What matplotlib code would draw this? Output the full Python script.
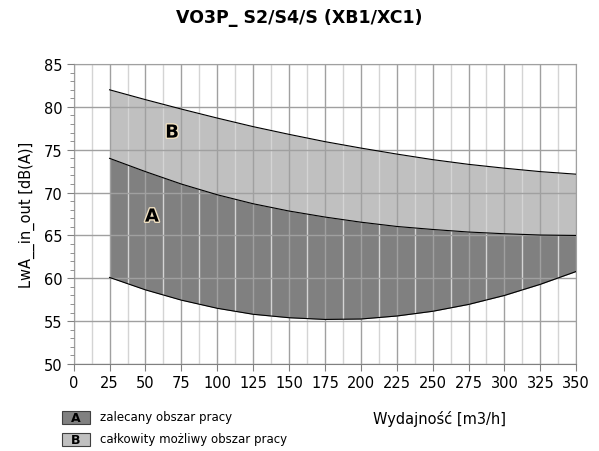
import matplotlib.pyplot as plt
import matplotlib.patheffects as pe
from matplotlib.patches import Rectangle
from matplotlib.ticker import MultipleLocator

# airflow [m3/h]
flow = [25, 50, 75, 100, 125, 150, 175, 200, 225, 250, 275, 300, 325, 350]
# upper limit of B (total possible area)
b_top = [82.0, 80.85, 79.75, 78.7, 77.7, 76.8, 75.95, 75.2, 74.5, 73.85, 73.3, 72.85, 72.45, 72.15]
# border between A and B
a_top = [74.0, 72.45, 71.0, 69.75, 68.7, 67.85, 67.15, 66.55, 66.05, 65.7, 65.4, 65.2, 65.05, 65.0]
# lower limit of A
a_bottom = [60.1, 58.65, 57.45, 56.5, 55.8, 55.4, 55.2, 55.25, 55.6, 56.15, 56.95, 58.0, 59.3, 60.8]

xticks = list(range(0, 351, 25))
yticks = list(range(50, 86, 5))

fig = plt.figure(figsize=(5.99, 4.52), dpi=100)
ax = fig.add_axes([0.123, 0.1925, 0.839, 0.6635])

ax.fill_between(flow, a_top, b_top, color='#c0c0c0', lw=0, zorder=1)
ax.fill_between(flow, a_bottom, a_top, color='#808080', lw=0, zorder=1)
ax.plot(flow, b_top, color='black', lw=0.8, zorder=3)
ax.plot(flow, a_top, color='black', lw=0.8, zorder=3)
ax.plot(flow, a_bottom, color='black', lw=0.8, zorder=3)

ax.set_xlim(0, 350)
ax.set_ylim(50, 85)
ax.set_xticks(xticks)
ax.set_yticks(yticks)
ax.xaxis.set_minor_locator(MultipleLocator(12.5))
ax.yaxis.set_minor_locator(MultipleLocator(1))
ax.grid(True, which='major', color='#a0a0a0', lw=1.0, zorder=2)
ax.grid(True, which='minor', axis='x', color='#d4d4d4', lw=1.0, zorder=2)
ax.set_axisbelow(False)
ax.tick_params(which='major', length=5, color='#808080', labelsize=10.5, pad=3)
ax.tick_params(which='minor', axis='y', length=3, color='#808080')
ax.tick_params(which='minor', axis='x', length=0)
for s in ax.spines.values():
    s.set_color('#a0a0a0')
ax.spines['left'].set_color('#808080')
ax.spines['bottom'].set_color('#808080')

ax.set_ylabel('LwA__in_out [dB(A)]', fontsize=10.5, labelpad=6)

outline = [pe.withStroke(linewidth=2, foreground='#f0e0c0')]
ax.text(68.5, 77.0, 'B', fontsize=13, fontweight='bold', ha='center', va='center',
        zorder=5, path_effects=outline)
ax.text(54.5, 67.2, 'A', fontsize=13, fontweight='bold', ha='center', va='center',
        zorder=5, path_effects=outline)

fig.text(0.5, 0.96, 'VO3P_ S2/S4/S (XB1/XC1)', fontsize=12.5, fontweight='bold',
         ha='center', va='center')

# legend drawn by hand
W, H = 599, 452
for y0, col, lab, txt in [(412, '#808080', 'A', 'zalecany obszar pracy'),
                          (434, '#c0c0c0', 'B', 'całkowity możliwy obszar pracy')]:
    fig.patches.append(Rectangle((62 / W, 1 - (y0 + 13) / H), 28 / W, 13 / H,
                                 transform=fig.transFigure, facecolor=col,
                                 edgecolor='#404040', lw=0.8))
    fig.text(76 / W, 1 - (y0 + 6.5) / H, lab, fontsize=9, fontweight='bold',
             ha='center', va='center')
    fig.text(100 / W, 1 - (y0 + 6) / H, txt, fontsize=8.5, ha='left', va='center')

fig.text(506 / W, 1 - 419 / H, 'Wydajność [m3/h]', fontsize=10.5, ha='right', va='center')

fig.savefig('out.png', dpi=100)
